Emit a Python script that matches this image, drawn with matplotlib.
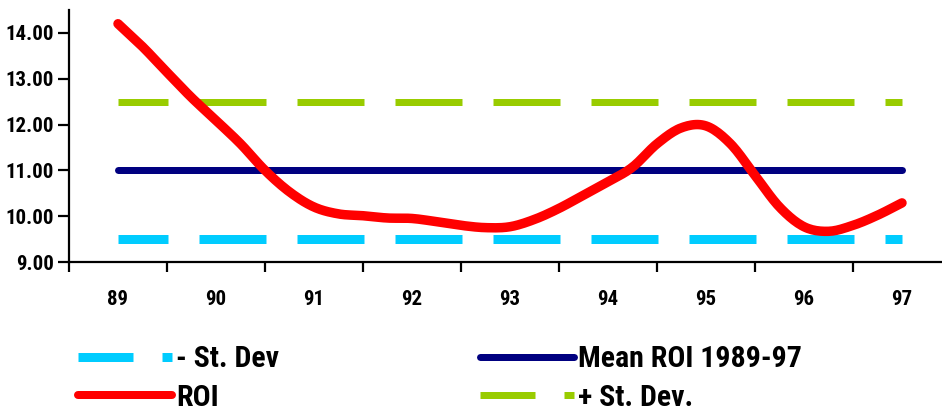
import matplotlib
matplotlib.use("Agg")
import matplotlib.pyplot as plt
from matplotlib.lines import Line2D
import numpy as np

# ---------------- data ----------------
years = ["89", "90", "91", "92", "93", "94", "95", "96", "97"]
roi = [14.20, 13.70, 13.14, 12.59, 12.09, 11.58, 11.00, 10.53,
       10.20, 10.05, 10.01, 9.96, 9.95, 9.88, 9.80, 9.75,
       9.77, 9.93, 10.17, 10.46, 10.75, 11.07, 11.58, 11.93,
       11.97, 11.58, 10.89, 10.20, 9.77, 9.67, 9.80, 10.02,
       10.29]
mean_roi = [11.0, 11.0, 11.0, 11.0, 11.0, 11.0, 11.0, 11.0, 11.0]
plus_sd = [12.5, 12.5, 12.5, 12.5, 12.5, 12.5, 12.5, 12.5, 12.5]
minus_sd = [9.5, 9.5, 9.5, 9.5, 9.5, 9.5, 9.5, 9.5, 9.5]
yticks = [9, 10, 11, 12, 13, 14]

# ---------------- fonts ----------------
plt.rcParams["font.family"] = ["Roboto Condensed", "Liberation Sans", "DejaVu Sans"]
plt.rcParams["font.weight"] = "bold"

CYAN = "#00CCFF"
NAVY = "#000080"
GREEN = "#99CC00"
RED = "#FF0000"

W, H = 942, 416
fig = plt.figure(figsize=(W / 100, H / 100), dpi=100)
ax = fig.add_axes([69 / W, (H - 262) / H, (W - 69) / W, (262 - 10) / H])

x_cat = np.arange(len(years))
x_roi = np.arange(len(roi)) / 4.0


def smooth(xs, ys, n=12):
    """Catmull-Rom rendering of a line through the given points (like a smoothed line)."""
    xs = np.asarray(xs, float)
    ys = np.asarray(ys, float)
    P = np.column_stack([xs, ys])
    P = np.vstack([2 * P[0] - P[1], P, 2 * P[-1] - P[-2]])
    out = []
    t = np.linspace(0, 1, n, endpoint=False)[:, None]
    for i in range(1, len(P) - 2):
        p0, p1, p2, p3 = P[i - 1], P[i], P[i + 1], P[i + 2]
        seg = 0.5 * ((2 * p1) + (-p0 + p2) * t + (2 * p0 - 5 * p1 + 4 * p2 - p3) * t ** 2
                     + (-p0 + 3 * p1 - 3 * p2 + p3) * t ** 3)
        out.append(seg)
    out.append(P[-2][None, :])
    out = np.vstack(out)
    return out[:, 0], out[:, 1]


px = 72 / 100.0  # points per pixel
ax.plot(x_cat, minus_sd, color=CYAN, lw=9 * px, dash_capstyle="butt",
        linestyle=(17 / 9, (67 / 9, 31 / 9)))
ax.plot(x_cat, plus_sd, color=GREEN, lw=7 * px, dash_capstyle="butt",
        linestyle=(17 / 7, (67 / 7, 31 / 7)))
ax.plot(x_cat, mean_roi, color=NAVY, lw=7 * px, solid_capstyle="round")
sx, sy = smooth(x_roi, roi)
ax.plot(sx, sy, color=RED, lw=9.5 * px, solid_capstyle="round",
        solid_joinstyle="round")

ax.set_xlim(-0.5, -0.5 + (W - 69) / 98)
ax.set_ylim(9, 14.5)

for s in ["top", "right"]:
    ax.spines[s].set_visible(False)
for s in ["left", "bottom"]:
    ax.spines[s].set_linewidth(1.6)
    ax.spines[s].set_color("black")

ax.set_yticks(yticks)
ax.set_yticklabels([f"{v:.2f}" for v in yticks])
ax.set_xticks(np.arange(len(years)) - 0.5)
ax.set_xticklabels([])
ax.set_xticks(x_cat, minor=True)
ax.set_xticklabels(years, minor=True)
ax.tick_params(axis="y", direction="out", length=8, width=1.6, pad=3,
               labelsize=15)
ax.tick_params(axis="x", which="major", direction="out", length=7, width=1.6)
ax.tick_params(axis="x", which="minor", length=0, pad=20, labelsize=15)
for t in ax.get_yticklabels() + ax.get_xticklabels(minor=True):
    t.set_fontweight("bold")

# ---------------- legend ----------------
fs = 21.5
h_cyan = Line2D([], [], color=CYAN, lw=9 * px, dash_capstyle="butt",
                linestyle=(0, (55 / 9, 29 / 9)))
h_red = Line2D([], [], color=RED, lw=8 * px, solid_capstyle="round")
h_navy = Line2D([], [], color=NAVY, lw=7 * px, solid_capstyle="round")
h_green = Line2D([], [], color=GREEN, lw=7 * px, dash_capstyle="butt",
                 linestyle=(0, (55 / 7, 29 / 7)))

common = dict(frameon=False, fontsize=fs, handlelength=94 / (fs / px),
              handletextpad=0.13, labelspacing=0.36, borderpad=0,
              borderaxespad=0, loc="upper left")
leg1 = fig.legend([h_cyan, h_red], ["- St. Dev", "ROI"],
                  bbox_to_anchor=(78 / W, (H - 345) / H), **common)
leg2 = fig.legend([h_navy, h_green], ["Mean ROI 1989-97", "+ St. Dev."],
                  bbox_to_anchor=(480 / W, (H - 345) / H), **common)
for lg in (leg1, leg2):
    for t in lg.get_texts():
        t.set_fontweight("bold")

fig.savefig("out.png", dpi=100)
